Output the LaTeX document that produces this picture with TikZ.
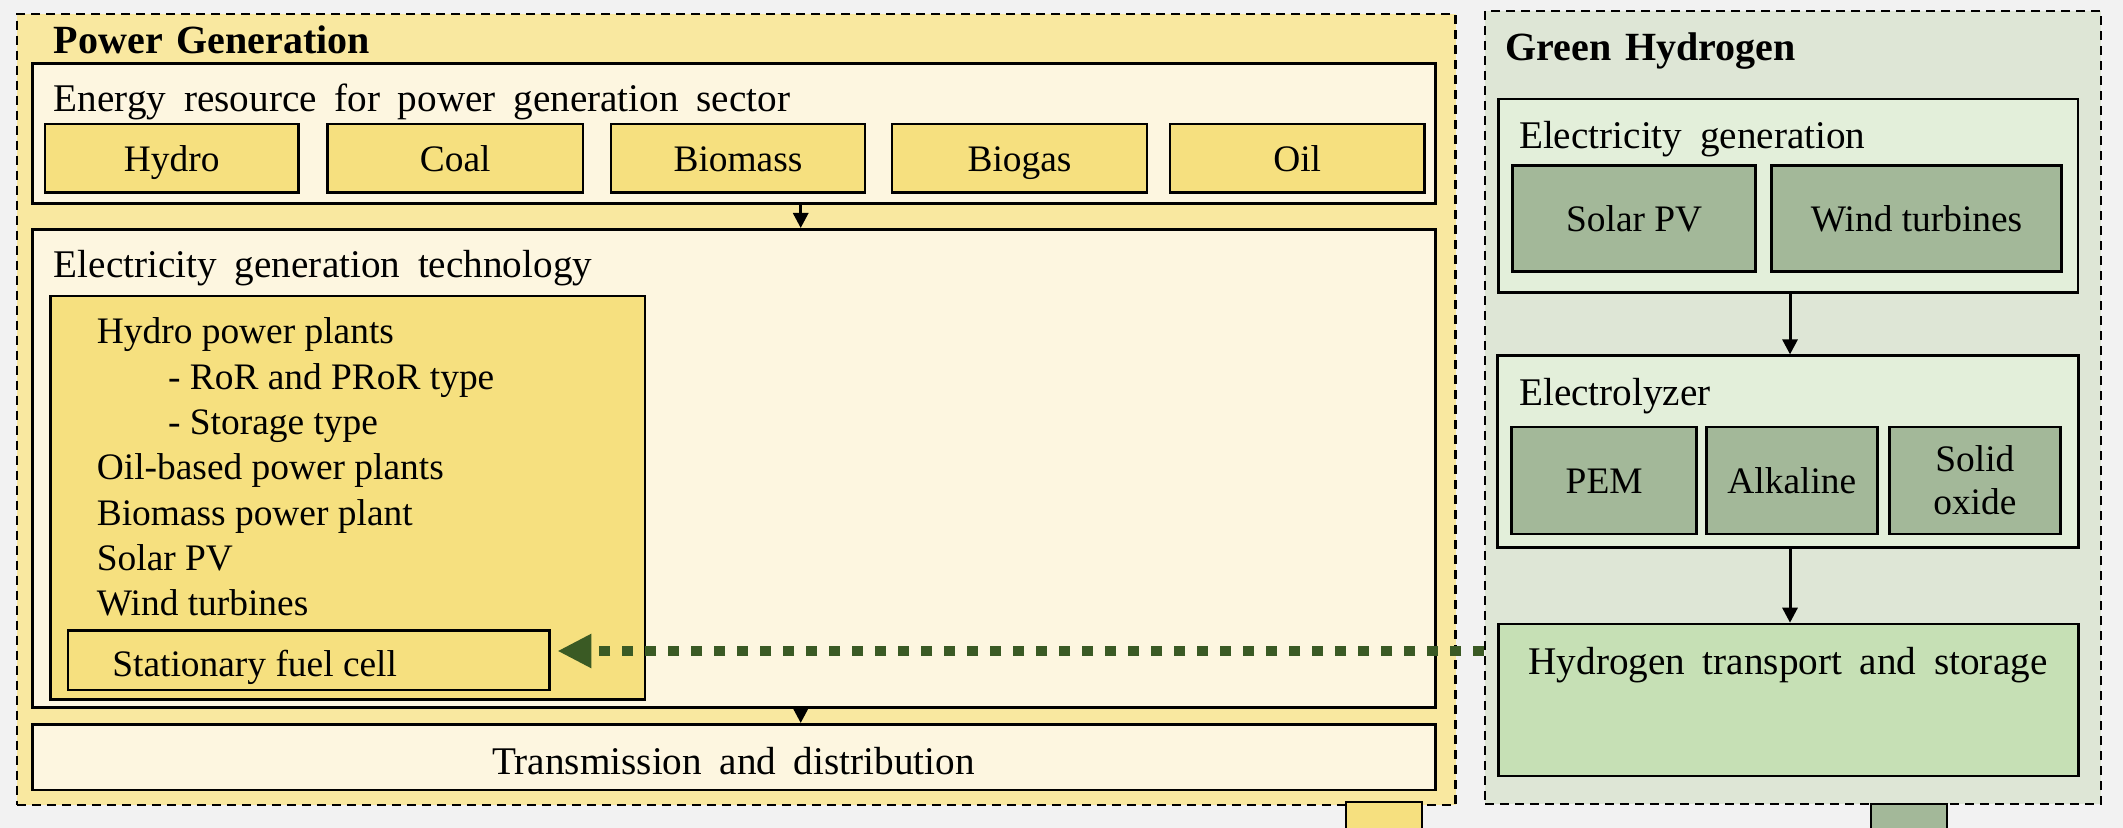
\documentclass[tikz,border=0pt]{standalone}
\usepackage{fontspec}
\setmainfont{Liberation Serif}
\usetikzlibrary{arrows.meta,fit}
\definecolor{bgc}{HTML}{F2F2F2}
\definecolor{pgOuter}{HTML}{F9E8A0}
\definecolor{cream}{HTML}{FDF6E0}
\definecolor{yelBox}{HTML}{F6E07F}
\definecolor{ghOuter}{HTML}{DEE6D6}
\definecolor{lgBox}{HTML}{E3EFDA}
\definecolor{sage}{HTML}{A3B899}
\definecolor{htwoc}{HTML}{C6E0B5}
\definecolor{dgreen}{HTML}{3A5A24}
\newcommand\hdf{\fontsize{19.6}{23}\selectfont\spaceskip=0.45em plus 0.1em\relax}
\newcommand\lbf{\fontsize{18.7}{22.6}\selectfont}
\newcommand\ttlf{\fontsize{20}{24}\selectfont\bfseries\spaceskip=0.35em\relax}
\begin{document}
\begin{tikzpicture}[x=0.5pt,y=-0.5pt,
  box/.style={draw, line width=1.3pt, inner sep=0pt},
  outerbox/.style={draw, dash pattern=on 4.5pt off 3pt, line width=1.1pt, inner sep=0pt},
  ybox/.style={box, fill=yelBox},
  sbox/.style={box, fill=sage},
  txt/.style={anchor=base west, inner sep=0pt},
  lbl/.style={anchor=base, inner sep=0pt, font=\lbf},
  arr/.style={line width=1.5pt, -{Triangle[length=7.5pt,width=7.5pt]}},
  dotarr/.style={draw=dgreen, line width=5pt, dash pattern=on 5.5pt off 6pt, -{Triangle[length=17pt,width=16pt]}}
]
\useasboundingbox (0,0) rectangle (2123,828);
\clip (0,0) rectangle (2123,828);
\fill[bgc] (0,0) rectangle (2123,828);

% ---------- Power Generation ----------
\node[outerbox, fill=pgOuter, fit={(16.8,14) (1455.5,805)}] (pg) {};
\node[txt, font=\ttlf] (pgt) at (53.6,53.3) {Power Generation};

\node[box, fill=cream, fit={(32.5,63.6) (1435.5,203.3)}] (er) {};
\node[txt, font=\hdf] (ert) at (53.6,111.7) {Energy resource for power generation sector};
\node[ybox, fit={(45,124) (298.5,192.3)}] (hydro) {};
\node[ybox, fit={(327.6,124) (583,192.3)}] (coal) {};
\node[ybox, fit={(611,124) (865,192.3)}] (biomass) {};
\node[ybox, fit={(892,124) (1147,192.3)}] (biogas) {};
\node[ybox, fit={(1170,124) (1424.3,192.3)}] (oil) {};
\node[lbl] (hydrot) at ([yshift=-6.6pt]hydro.center) {Hydro};
\node[lbl] (coalt) at ([yshift=-6.6pt]coal.center) {Coal};
\node[lbl] (biomasst) at ([yshift=-6.6pt]biomass.center) {Biomass};
\node[lbl] (biogast) at ([yshift=-6.6pt]biogas.center) {Biogas};
\node[lbl] (oilt) at ([yshift=-6.6pt]oil.center) {Oil};

\node[box, fill=cream, fit={(32.5,229.3) (1435.5,707.7)}] (tech) {};
\node[txt, font=\hdf] (techt) at (53.6,278) {Electricity generation technology};
\node[box, fill=yelBox, fit={(50.7,296) (645,699.3)}] (list) {};
\node[txt, font=\lbf] (l1) at (96.5,343.3) {Hydro power plants};
\node[txt, font=\lbf] (l2) at (167.7,389) {- RoR and PRoR type};
\node[txt, font=\lbf] (l3) at (167.7,434.3) {- Storage type};
\node[txt, font=\lbf] (l4) at (96.5,479.3) {Oil-based power plants};
\node[txt, font=\lbf] (l5) at (96.5,525) {Biomass power plant};
\node[txt, font=\lbf] (l6) at (96.5,570) {Solar PV};
\node[txt, font=\lbf] (l7) at (96.5,615) {Wind turbines};
\node[box, fill=yelBox, fit={(67.9,630.7) (549.5,690)}] (fc) {};
\node[txt, font=\lbf] (fct) at (112,676.7) {Stationary fuel cell};

\node[box, fill=cream, fit={(32.5,724.3) (1435.5,790)}] (tm) {};
\node[anchor=base, inner sep=0pt, font=\hdf] (tmt) at (733.5,774) {Transmission and distribution};

\coordinate (ax1) at (800.7,0);
\draw[arr] (er.south -| ax1) -- (tech.north -| ax1);
\draw[arr] (tech.south -| ax1) -- (tm.north -| ax1);

% ---------- Green Hydrogen ----------
\node[outerbox, fill=ghOuter, fit={(1485,11) (2101,804)}] (gh) {};
\node[txt, font=\ttlf] (ght) at (1505,61) {Green Hydrogen};

\node[box, fill=lgBox, fit={(1498.5,99) (2078,292.3)}] (eg) {};
\node[txt, font=\hdf] (egt) at (1518.7,149) {Electricity generation};
\node[sbox, fit={(1512.7,165.7) (1755.6,271.7)}] (spv) {};
\node[sbox, fit={(1771.5,165.7) (2061.6,271.7)}] (wt) {};
\node[lbl] (spvt) at ([yshift=-6.6pt]spv.center) {Solar PV};
\node[lbl] (wtt) at ([yshift=-6.6pt]wt.center) {Wind turbines};

\node[box, fill=lgBox, fit={(1497.4,355.7) (2078.3,547.7)}] (el) {};
\node[txt, font=\hdf] (elt) at (1518.8,405.7) {Electrolyzer};
\node[sbox, fit={(1511.6,427) (1696.7,534)}] (pem) {};
\node[sbox, fit={(1706.2,427) (1877.4,534)}] (alk) {};
\node[sbox, fit={(1889.2,427) (2060.5,534)}] (sox) {};
\node[lbl] (pemt) at ([yshift=-6.6pt]pem.center) {PEM};
\node[lbl] (alkt) at ([yshift=-6.6pt]alk.center) {Alkaline};
\node[font=\fontsize{18.7}{21.7}\selectfont, align=center, inner sep=0pt] (soxt) at (sox.center) {Solid\\oxide};

\node[box, fill=htwoc, fit={(1498.4,624) (2078.5,776)}] (h2) {};
\node[anchor=base, inner sep=0pt, font=\hdf] (h2t) at (1788,674) {Hydrogen transport and storage};

\coordinate (ax2) at (1790,0);
\draw[arr] (eg.south -| ax2) -- (el.north -| ax2);
\draw[arr] (el.south -| ax2) -- (h2.north -| ax2);

% ---------- hydrogen to fuel cell ----------
\coordinate (dstart) at (1484,651);
\draw[dotarr] (dstart) -- ([xshift=3.3pt]fc.east |- dstart);

% ---------- partly visible boxes at the bottom ----------
\node[draw, line width=1pt, fill=yelBox, inner sep=0pt, fit={(1345.7,801.7) (1421.5,860)}] (ly) {};
\node[draw, line width=1pt, fill=sage, inner sep=0pt, fit={(1871,804) (1946.7,860)}] (lg) {};
\end{tikzpicture}
\end{document}
